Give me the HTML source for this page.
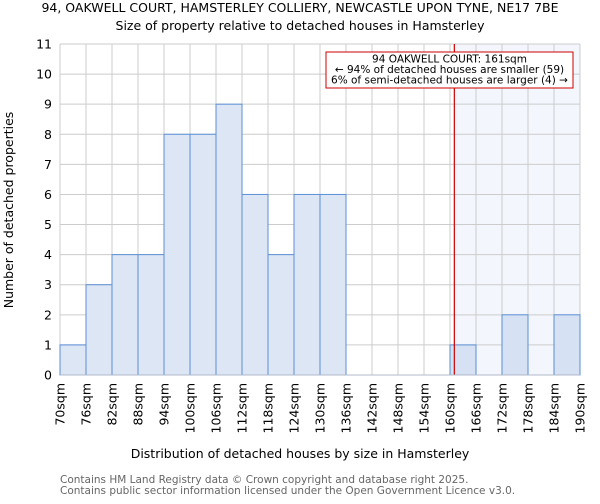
<!DOCTYPE html>
<html><head><meta charset="utf-8"><style>
body{margin:0;background:#fff;font-family:"DejaVu Sans","Liberation Sans",sans-serif}
svg text{font-family:"DejaVu Sans","Liberation Sans",sans-serif}
</style></head><body>
<svg id="chart" width="600" height="500" xmlns="http://www.w3.org/2000/svg">
<text x="300" y="12" text-anchor="middle" font-size="12.5" fill="#000">94, OAKWELL COURT, HAMSTERLEY COLLIERY, NEWCASTLE UPON TYNE, NE17 7BE</text>
<text x="300" y="30" text-anchor="middle" font-size="12.5" fill="#000">Size of property relative to detached houses in Hamsterley</text>
<g id="grid"></g><g id="bars"></g><g id="axes"></g>
<text x="300" y="458" text-anchor="middle" font-size="12.5">Distribution of detached houses by size in Hamsterley</text>
<text transform="translate(13,210) rotate(-90)" text-anchor="middle" font-size="12.5">Number of detached properties</text>
<text x="60" y="483" font-size="10.5" fill="#666">Contains HM Land Registry data © Crown copyright and database right 2025.</text>
<text x="60" y="494" font-size="10.5" fill="#666">Contains public sector information licensed under the Open Government Licence v3.0.</text>
</svg>
<script>
const binStarts=[70,76,82,88,94,100,106,112,118,124,130,136,142,148,154,160,166,172,178,184];
const counts=[1,3,4,4,8,8,9,6,4,6,6,0,0,0,0,1,0,2,0,2];
const tickLabels=["70sqm","76sqm","82sqm","88sqm","94sqm","100sqm","106sqm","112sqm","118sqm","124sqm","130sqm","136sqm","142sqm","148sqm","154sqm","160sqm","166sqm","172sqm","178sqm","184sqm","190sqm"];
const yTicks=[0,1,2,3,4,5,6,7,8,9,10,11];
const subjectSize=161;
const NS="http://www.w3.org/2000/svg";
const L=60,R=580,T=44,B=375,xMin=70,xMax=190,yMax=11;
const xs=v=>L+(v-xMin)/(xMax-xMin)*(R-L);
const ys=v=>B-v/yMax*(B-T);
function mk(t,a,p){const e=document.createElementNS(NS,t);for(const k in a)e.setAttribute(k,a[k]);p.appendChild(e);return e;}
const grid=document.getElementById('grid'),bars=document.getElementById('bars'),axes=document.getElementById('axes');
const sx=xs(subjectSize);
const sh=mk('rect',{x:sx,y:T,width:R-sx,height:B-T,fill:'#f3f6fd'},grid);


yTicks.forEach(v=>{
 const g=mk('line',{x1:L,x2:R,y1:ys(v),y2:ys(v),stroke:'#cccccc','stroke-width':1},grid);
 
 
 const t=mk('text',{x:L-8,y:ys(v)+4.5,'text-anchor':'end','font-size':12.5},axes);t.textContent=v;
 
 
});
tickLabels.forEach((s,i)=>{
 const v=xMin+i*6;
 const g=mk('line',{x1:xs(v),x2:xs(v),y1:T,y2:B,stroke:'#cccccc','stroke-width':1},grid);
 
 
 const t=mk('text',{transform:`translate(${xs(v)+4.5},${B+8}) rotate(-90)`,'text-anchor':'end','font-size':12.5},axes);t.textContent=s;
 
 
});
binStarts.forEach((b,i)=>{
 if(!counts[i])return;
 const r=mk('rect',{x:xs(b),y:ys(counts[i]),width:xs(b+6)-xs(b),height:B-ys(counts[i]),fill:b>=subjectSize-1?'#d6e1f3':'#dce6f4',stroke:'#5b8fd6','stroke-width':1},bars);
 
 
});
const ax=mk('line',{x1:L,x2:R,y1:B,y2:B,stroke:'#b0b8c8','stroke-width':1},axes);


const rl=mk('line',{x1:sx,x2:sx,y1:T,y2:B,stroke:'#cc0000','stroke-width':1.2},bars);


const box=mk('rect',{x:326,y:52,width:247,height:36,fill:'#fff',stroke:'#cc0000','stroke-width':1},bars);


["94 OAKWELL COURT: 161sqm","← 94% of detached houses are smaller (59)","6% of semi-detached houses are larger (4) →"].forEach((s,i)=>{
 const t=mk('text',{x:449.5,y:62.5+i*10.5,'text-anchor':'middle','font-size':10.5},bars);t.textContent=s;
 
 
});
</script>
</body></html>
